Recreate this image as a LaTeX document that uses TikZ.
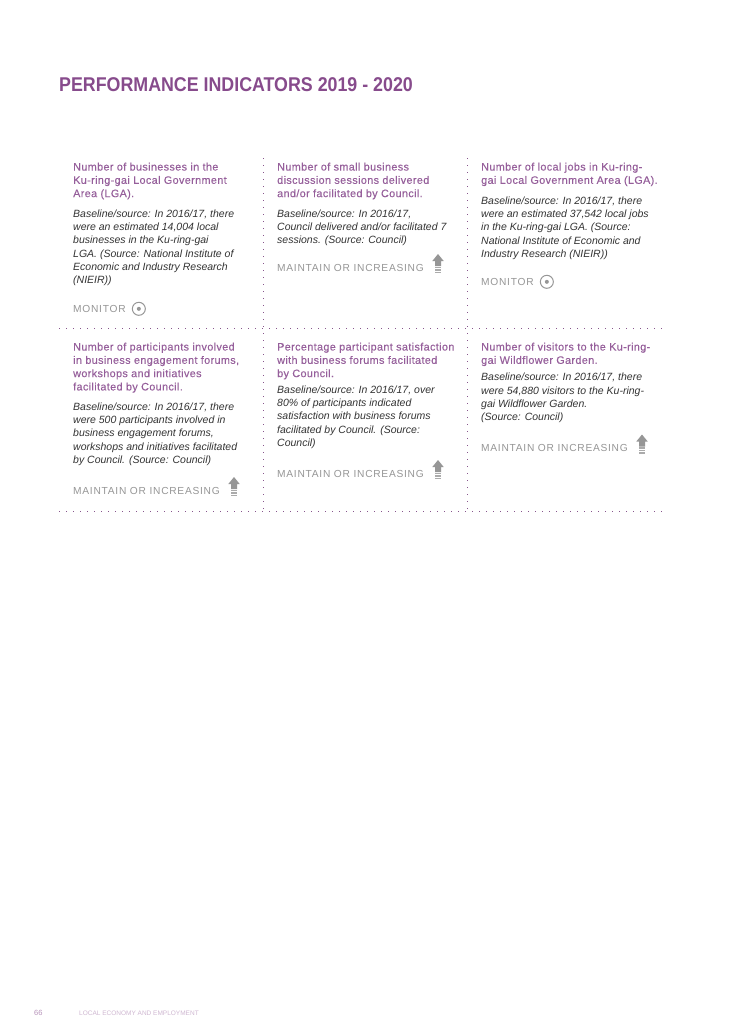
\documentclass[tikz,border=0pt]{standalone}
\usepackage{fontspec}
\setmainfont{Liberation Sans}
\newfontfamily\headfont[FakeStretch=0.895]{Liberation Sans}
\usetikzlibrary{positioning,calc}
\definecolor{kmcpurple}{RGB}{135,75,140}
\definecolor{kmcgoal}{RGB}{150,95,155}
\definecolor{kmcgrey}{RGB}{150,150,150}
\definecolor{kmcdots}{RGB}{135,85,140}
\tikzset{
    goaltext/.style={inner sep=0pt,anchor=north west,align=left,text=kmcgoal,font=\fontsize{10.8}{13.3}\selectfont\addfontfeature{LetterSpace=3.5,FakeBold=0.2}},
    basetext/.style={inner sep=0pt,anchor=north west,align=left,text=black!80,font=\fontsize{10.5}{13.3}\selectfont\itshape},
    statustext/.style={inner sep=0pt,anchor=north west,text=kmcgrey,font=\fontsize{10.2}{12}\selectfont\addfontfeature{LetterSpace=7.3}},
    griddots/.style={kmcdots,line width=1pt,dash pattern=on 1pt off 6pt},
    monitorring/.style={draw=kmcgrey,circle,line width=1pt,minimum size=13pt,inner sep=0pt},
    monitordot/.style={fill=kmcgrey,circle,minimum size=4pt,inner sep=0pt},
    uparrow/.style={fill=kmcgrey,draw=none},
    uparrowbar/.style={kmcgrey!80,line width=1.2pt}
}
\newcommand{\uparrowicon}[1]{%
    \fill[uparrow] ($(#1)+(0.5,0)$) -- ++(5.7,7) -- ++(-2.7,0) -- ++(0,5) -- ++(-6,0) -- ++(0,-5) -- ++(-2.7,0) -- cycle;
    \draw[uparrowbar] ($(#1)+(-2.5,13.5)$) -- ++(6,0);
    \draw[uparrowbar] ($(#1)+(-2.5,16)$) -- ++(6,0);
    \draw[uparrowbar] ($(#1)+(-2.5,18.5)$) -- ++(6,0);
}
\begin{document}
\begin{tikzpicture}[x=1pt,y=-1pt]
    \useasboundingbox[fill=white] (0,0) rectangle (730,1033);

    % Heading
    \node[inner sep=0pt,anchor=west,text=kmcpurple,font=\fontsize{19.9}{22}\headfont\bfseries] (heading) at (59,85) {PERFORMANCE INDICATORS 2019 - 2020};

    % Grid
    \coordinate (rowa) at (59,328.5);
    \coordinate (rowaend) at (665,328.5);
    \coordinate (rowb) at (59,511.5);
    \coordinate (rowbend) at (665,511.5);
    \coordinate (cola) at (263.5,158);
    \coordinate (colaend) at (263.5,511);
    \coordinate (colb) at (467.5,158);
    \coordinate (colbend) at (467.5,511);
    \draw[griddots] (rowa) -- (rowaend);
    \draw[griddots] (rowb) -- (rowbend);
    \draw[griddots] (cola) -- (colaend);
    \draw[griddots] (colb) -- (colbend);

    % Businesses
    \node[goaltext] (goala) at (73,162.5) {Number of businesses in the\\Ku-ring-gai Local Government\\Area (LGA).};
    \node[basetext] (basea) at (73,209.5) {Baseline/source: In 2016/17, there\\were an estimated 14,004 local\\businesses in the Ku-ring-gai\\LGA. (Source: National Institute of\\Economic and Industry Research\\(NIEIR))};
    \node[statustext] (statusa) at (73,305) {MONITOR};
    \node[monitorring,right=6pt of statusa] (ringa) {};
    \node[monitordot] (dota) at (ringa) {};

    % Small business sessions
    \node[goaltext] (goalb) at (277,162.5) {Number of small business\\discussion sessions delivered\\and/or facilitated by Council.};
    \node[basetext] (baseb) at (277,209.5) {Baseline/source: In 2016/17,\\Council delivered and/or facilitated 7\\sessions. (Source: Council)};
    \node[statustext] (statusb) at (277,264) {MAINTAIN OR INCREASING};
    \uparrowicon{437.5,254}

    % Local jobs
    \node[goaltext] (goalc) at (481,162.5) {Number of local jobs in Ku-ring-\\gai Local Government Area (LGA).};
    \node[basetext] (basec) at (481,196.5) {Baseline/source: In 2016/17, there\\were an estimated 37,542 local jobs\\in the Ku-ring-gai LGA. (Source:\\National Institute of Economic and\\Industry Research (NIEIR))};
    \node[statustext] (statusc) at (481,278) {MONITOR};
    \node[monitorring,right=6pt of statusc] (ringc) {};
    \node[monitordot] (dotc) at (ringc) {};

    % Participants
    \node[goaltext] (goald) at (73,342.5) {Number of participants involved\\in business engagement forums,\\workshops and initiatives\\facilitated by Council.};
    \node[basetext] (based) at (73,402.5) {Baseline/source: In 2016/17, there\\were 500 participants involved in\\business engagement forums,\\workshops and initiatives facilitated\\by Council. (Source: Council)};
    \node[statustext] (statusd) at (73,487) {MAINTAIN OR INCREASING};
    \uparrowicon{233.5,477}

    % Satisfaction
    \node[goaltext] (goale) at (277,342.5) {Percentage participant satisfaction\\with business forums facilitated\\by Council.};
    \node[basetext] (basee) at (277,385.5) {Baseline/source: In 2016/17, over\\80\% of participants indicated\\satisfaction with business forums\\facilitated by Council. (Source:\\Council)};
    \node[statustext] (statuse) at (277,470) {MAINTAIN OR INCREASING};
    \uparrowicon{437.5,460}

    % Wildflower Garden
    \node[goaltext] (goalf) at (481,342.5) {Number of visitors to the Ku-ring-\\gai Wildflower Garden.};
    \node[basetext] (basef) at (481,373) {Baseline/source: In 2016/17, there\\were 54,880 visitors to the Ku-ring-\\gai Wildflower Garden.\\(Source: Council)};
    \node[statustext] (statusf) at (481,444.5) {MAINTAIN OR INCREASING};
    \uparrowicon{641.5,434.5}

    % Footer
    \node[inner sep=0pt,anchor=west,text=kmcpurple!60,font=\fontsize{7.5}{9}\selectfont] (pagenum) at (34,1013) {66};
    \node[inner sep=0pt,anchor=west,text=kmcpurple!40,font=\fontsize{6.5}{9}\selectfont] (footer) at (79,1013) {LOCAL ECONOMY AND EMPLOYMENT};
\end{tikzpicture}
\end{document}
